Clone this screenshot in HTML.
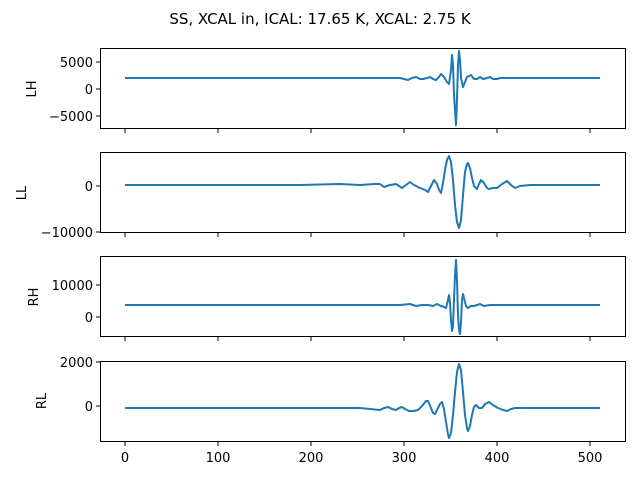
<!DOCTYPE html>
<html><head><meta charset="utf-8"><style>
body{margin:0;background:#fff;}
text{font-family:"DejaVu Sans","Liberation Sans",sans-serif;font-size:13px;fill:#000}
</style></head><body>
<svg width="640" height="480" xmlns="http://www.w3.org/2000/svg">
<text x="320" y="24" text-anchor="middle" style="font-size:15px">SS, XCAL in, ICAL: 17.65 K, XCAL: 2.75 K</text>
<g fill="none" stroke="#1f77b4" stroke-width="2" stroke-linejoin="round">
<polyline points="125,78 380,78 400,78 408,80 412,78 416,77 420,79 423,79 427,78 430,77 433,79 436,80 439,77 441,74 444,77 447,82 449,84 451,70 452,55 453,65 454,95 456,125 457,100 458,65 459,51 460,60 461,78 463,87 465,82 467,77 469,76 471,75 474,79 477,79 480,77 483,79 487,78 490,77 493,79 497,79 500,78 503,78 600,78"/>
<polyline points="125,185 300,185 340,184 360,185 375,184 380,184 384,187 390,185 396,184 402,188 406,185 410,182 414,185 420,188 425,190 428,192 431,186 434,180 437,184 439,190 441,193 443,183 445,170 447,160 449,156 451,162 453,180 455,205 457,222 459,228 461,220 463,195 465,172 467,164 468,163 470,168 472,178 474,186 477,189 479,184 481,180 484,183 487,188 489,189 493,188 497,188 502,184 507,181 511,185 515,188 520,186 530,185 600,185"/>
<polyline points="125,305 400,305 410,304 416,306 422,305 428,305 433,306 437,304 441,306 444,307 446,308 448,300 449,295 450,303 451,320 452,331 453,326 454,300 455,275 456,260 457,280 458,315 459,330 460,334 461,322 462,300 463,294 464,298 466,306 468,308 471,306 474,306 477,305 480,304 484,306 490,305 600,305"/>
<polyline points="125,408 360,408 370,409 380,410 384,408 388,407 392,409 396,410 399,408 402,407 405,409 409,411 414,411 418,410 422,406 426,401 428,401 431,408 433,413 435,414 437,410 440,404 442,402 444,409 446,422 448,434 449,438 451,433 453,415 455,392 457,372 459,364 461,370 463,392 465,415 467,428 468,431 470,426 472,415 474,407 476,405 479,408 482,408 485,404 489,402 493,405 498,408 503,410 507,411 511,409 515,408 600,408"/>
</g>
<g fill="none" stroke="#000" stroke-width="1">
<rect x="100.5" y="48.5" width="525" height="80"/>
<rect x="100.5" y="152.5" width="525" height="80"/>
<rect x="100.5" y="256.5" width="525" height="80"/>
<rect x="100.5" y="361.5" width="525" height="80"/>
<path d="M125,129v4M218,129v4M311,129v4M404,129v4M497,129v4M590,129v4
M125,233v4M218,233v4M311,233v4M404,233v4M497,233v4M590,233v4
M125,337v4M218,337v4M311,337v4M404,337v4M497,337v4M590,337v4
M125,442v4M218,442v4M311,442v4M404,442v4M497,442v4M590,442v4
M100,62h-4M100,89h-4M100,116h-4M100,186h-4M100,232h-4M100,285h-4M100,317h-4M100,362h-4M100,406h-4"/>
</g>
<g text-anchor="end">
<text x="93" y="67">5000</text><text x="93" y="94">0</text><text x="93" y="121">−5000</text>
<text x="93" y="191">0</text><text x="93" y="237">−10000</text>
<text x="93" y="290">10000</text><text x="93" y="322">0</text>
<text x="93" y="367">2000</text><text x="93" y="411">0</text>
</g>
<g text-anchor="middle">
<text x="125" y="462">0</text><text x="218" y="462">100</text><text x="311" y="462">200</text><text x="404" y="462">300</text><text x="497" y="462">400</text><text x="590" y="462">500</text>
<text transform="translate(36,89) rotate(-90)">LH</text>
<text transform="translate(26,193) rotate(-90)">LL</text>
<text transform="translate(38,297) rotate(-90)">RH</text>
<text transform="translate(46,401) rotate(-90)">RL</text>
</g>
</svg>
</body></html>
